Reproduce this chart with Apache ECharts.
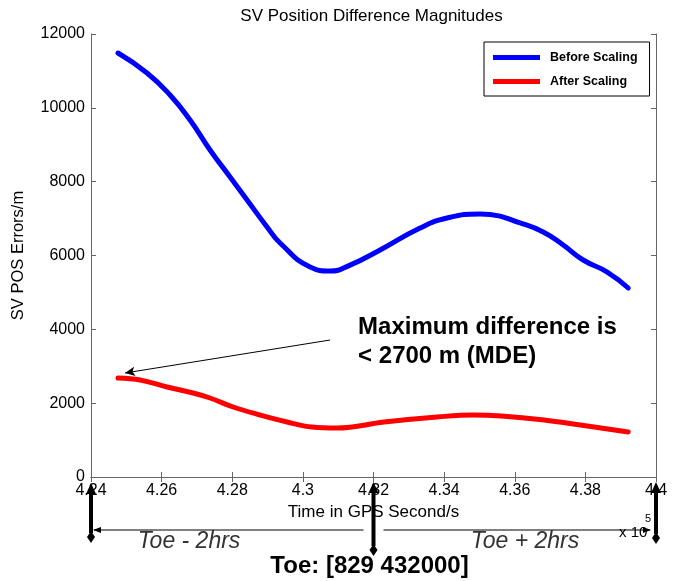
<!DOCTYPE html>
<html>
<head>
<meta charset="utf-8">
<script src="https://cdn.jsdelivr.net/npm/echarts@6/dist/echarts.min.js"></script>
<style>
  html, body { margin: 0; padding: 0; background: #fff; }
  #chart { width: 673px; height: 581px; }
</style>
</head>
<body>
<div id="chart"></div>
<script>
// time in GPS seconds, values in metres
const beforeTime = [424765, 425586, 426238, 426805, 427371, 427938, 428420, 428986, 429354, 430204,
  430771, 431337, 432187, 433320, 434085, 435020, 435303, 436153, 436805, 437372, 437938, 438618, 439213]
const beforeErr = [11485, 10944, 10348, 9671, 8858, 8127, 7504, 6772, 6339, 5689,
  5580, 5740, 6150, 6745, 7016, 7125, 7112, 6881, 6637, 6285, 5878, 5553, 5120]

const afterTime = [424765, 425388, 426153, 426890, 427371, 428023, 428788, 429553, 430261,
  430969, 432300, 433802, 434822, 435615, 436833, 437853, 439213]
const afterErr = [2682, 2628, 2438, 2276, 2140, 1896, 1680, 1490, 1354,
  1327, 1490, 1625, 1680, 1653, 1544, 1408, 1219]

const toeMarks = [424000, 432000, 440000]
const noteArrow = [[430771, 3711], [424963, 2817]]
const noteAnchor = [431564, 4443]

const font = 'Liberation Sans, Arial, sans-serif'
const axisGray = '#666'

const chart = echarts.init(document.getElementById('chart'))

const zip = (xs, ys) => xs.map((x, i) => [x, ys[i]])
const xFmt = v => String(+(v / 1e5).toFixed(2))

chart.setOption({
  animation: false,
  textStyle: { fontFamily: font },
  grid: { left: 91, right: 17, top: 34, bottom: 104 },
  legend: {
    orient: 'vertical',
    left: 484,
    top: 42,
    padding: [9, 12, 8, 9],
    itemGap: 11,
    itemWidth: 47,
    itemHeight: 5,
    icon: 'rect',
    borderColor: '#000',
    borderWidth: 1,
    backgroundColor: '#fff',
    textStyle: { fontFamily: font, fontSize: 12.5, fontWeight: 'bold', color: '#000', padding: [0, 0, 0, 5] },
    data: ['Before Scaling', 'After Scaling'],
  },
  xAxis: [
    {
      type: 'value',
      min: 424000,
      max: 440000,
      interval: 2000,
      name: 'Time in GPS Second/s',
      nameLocation: 'middle',
      nameGap: 27,
      nameTextStyle: { fontFamily: font, fontSize: 17, color: '#000' },
      axisLine: { lineStyle: { color: axisGray } },
      axisTick: { inside: true, length: 5, lineStyle: { color: axisGray } },
      axisLabel: { formatter: xFmt, fontSize: 16, color: '#000', margin: 6, showMaxLabel: true, showMinLabel: true },
      splitLine: { show: false },
    },
    {
      type: 'value',
      position: 'top',
      min: 424000,
      max: 440000,
      interval: 2000,
      axisLine: { show: true, lineStyle: { color: axisGray } },
      axisTick: { show: true, inside: true, length: 5, lineStyle: { color: axisGray } },
      axisLabel: { show: false },
      splitLine: { show: false },
    },
  ],
  yAxis: [
    {
      type: 'value',
      min: 0,
      max: 12000,
      interval: 2000,
      name: 'SV POS Errors/m',
      nameLocation: 'middle',
      nameGap: 64,
      nameTextStyle: { fontFamily: font, fontSize: 16.5, color: '#000' },
      axisLine: { show: true, lineStyle: { color: axisGray } },
      axisTick: { show: true, inside: true, length: 5, lineStyle: { color: axisGray } },
      axisLabel: { formatter: v => String(v), fontSize: 16, color: '#000', margin: 6 },
      splitLine: { show: false },
    },
    {
      type: 'value',
      position: 'right',
      min: 0,
      max: 12000,
      interval: 2000,
      axisLine: { show: true, lineStyle: { color: axisGray } },
      axisTick: { show: true, inside: true, length: 5, lineStyle: { color: axisGray } },
      axisLabel: { show: false },
      splitLine: { show: false },
    },
  ],
  series: [
    {
      name: 'Before Scaling',
      type: 'line',
      smooth: 0.5,
      showSymbol: false,
      data: zip(beforeTime, beforeErr),
      lineStyle: { width: 5, color: '#0000ff', cap: 'round' },
      itemStyle: { color: '#0000ff' },
    },
    {
      name: 'After Scaling',
      type: 'line',
      smooth: 0.4,
      showSymbol: false,
      data: zip(afterTime, afterErr),
      lineStyle: { width: 5, color: '#ff0000', cap: 'round' },
      itemStyle: { color: '#ff0000' },
      markLine: {
        silent: true,
        symbol: ['none', 'arrow'],
        symbolSize: [7, 10],
        label: { show: false },
        lineStyle: { color: '#000', width: 1, type: 'solid' },
        data: [[{ coord: noteArrow[0] }, { coord: noteArrow[1] }]],
      },
    },
  ],
})

// annotations placed from axis positions
const px = v => chart.convertToPixel({ xAxisIndex: 0 }, v)
const [xL, xM, xR] = toeMarks.map(px)
const anchor = chart.convertToPixel({ gridIndex: 0 }, noteAnchor)
const gridMid = (px(424000) + px(440000)) / 2

const vArrow = (x, yTop, yBot) => [
  { type: 'line', shape: { x1: x, y1: yTop + 8, x2: x, y2: yBot - 4 }, style: { stroke: '#000', lineWidth: 4 } },
  { type: 'polygon', shape: { points: [[x, yTop], [x - 5, yTop + 11], [x + 5, yTop + 11]] }, style: { fill: '#000' } },
  { type: 'polygon', shape: { points: [[x, yBot - 6], [x + 4, yBot], [x, yBot + 6], [x - 4, yBot]] }, style: { fill: '#000' } },
]

const elements = [
  {
    type: 'text', x: gridMid - 2, y: 16,
    style: { text: 'SV Position Difference Magnitudes', font: '17px ' + font, fill: '#000', align: 'center', verticalAlign: 'middle' },
  },
  {
    type: 'text', x: anchor[0], y: anchor[1],
    style: {
      text: 'Maximum difference is\n< 2700 m (MDE)', font: 'bold 24px ' + font, fill: '#000',
      lineHeight: 29, verticalAlign: 'top',
    },
  },
  ...vArrow(xL, 483, 537),
  ...vArrow(xM, 482, 550),
  ...vArrow(xR, 482, 538),
  { type: 'line', shape: { x1: xL + 3, y1: 530, x2: xM - 10, y2: 530 }, style: { stroke: '#000', lineWidth: 1 } },
  { type: 'polygon', shape: { points: [[xL + 2, 530], [xL + 10, 527], [xL + 10, 533]] }, style: { fill: '#000' } },
  { type: 'line', shape: { x1: xM + 10, y1: 530, x2: xR - 6, y2: 530 }, style: { stroke: '#000', lineWidth: 1 } },
  { type: 'polygon', shape: { points: [[xR - 5, 530], [xR - 13, 527], [xR - 13, 533]] }, style: { fill: '#000' } },
  {
    type: 'text', x: 189, y: 542,
    style: { text: 'Toe - 2hrs', font: 'italic 23px ' + font, fill: '#333', align: 'center', verticalAlign: 'middle' },
  },
  {
    type: 'text', x: 525, y: 542,
    style: { text: 'Toe + 2hrs', font: 'italic 23px ' + font, fill: '#333', align: 'center', verticalAlign: 'middle' },
  },
  {
    type: 'text', x: xM - 4, y: 566,
    style: { text: 'Toe: [829 432000]', font: 'bold 24px ' + font, fill: '#000', align: 'center', verticalAlign: 'middle' },
  },
  {
    type: 'text', x: xR - 37, y: 533,
    style: { text: 'x 10', font: '15px ' + font, fill: '#000', verticalAlign: 'middle' },
  },
  {
    type: 'text', x: xR - 11, y: 519,
    style: { text: '5', font: '11px ' + font, fill: '#000', verticalAlign: 'middle' },
  },
]

chart.setOption({ graphic: { elements } })
</script>
</body>
</html>
